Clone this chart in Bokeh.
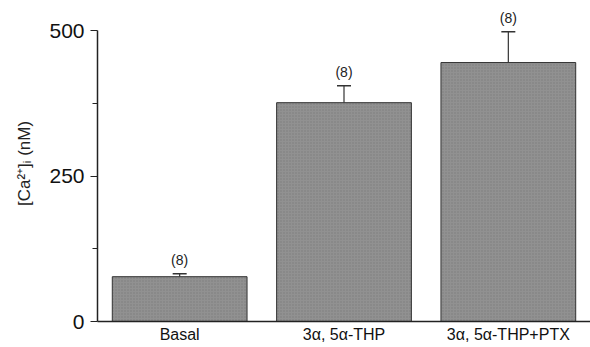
from bokeh.plotting import figure
from bokeh.models import ColumnDataSource, FixedTicker, Whisker, TeeHead, LabelSet
from bokeh.core.properties import value
from bokeh.embed import file_html
from bokeh.resources import INLINE

categories = ["Basal", "3α, 5α-THP", "3α, 5α-THP+PTX"]
means = [77, 376, 445]
sems = [5, 29, 53]
n_labels = ["(8)", "(8)", "(8)"]
y_ticks = [0, 250, 500]
y_minor = [125, 375]

src = ColumnDataSource(dict(
    cat=categories,
    mean=means,
    upper=[m + s for m, s in zip(means, sems)],
    lbl=n_labels,
))

p = figure(width=590, height=347, x_range=categories, y_range=(0, 543),
           output_backend="svg", toolbar_location=None,
           min_border_left=97, min_border_right=0, min_border_top=5, min_border_bottom=26)
p.x_range.range_padding = 0
p.outline_line_color = None
p.grid.visible = False
p.background_fill_color = "white"
p.border_fill_color = "white"

p.vbar(x="cat", top="mean", width=0.82, source=src,
       fill_color="#919191", line_color="#333333", line_width=1,
       hatch_pattern="dot", hatch_color="#5a5a5a", hatch_scale=3, hatch_alpha=0.4)

w = Whisker(base="cat", lower="mean", upper="upper", source=src,
            line_color="#333333", line_width=1.2,
            upper_head=TeeHead(size=14, line_color="#333333", line_width=1.5),
            lower_head=None)
p.add_layout(w)

p.text(x="cat", y="upper", text="lbl", source=src, y_offset=-6,
       text_align="center", text_baseline="bottom",
       text_font=value("Liberation Sans"), text_font_size="14px", text_color="#222222")

ya = p.yaxis[0]
ya.bounds = (0, 500)
ya.ticker = FixedTicker(ticks=y_ticks, minor_ticks=y_minor)
ya.axis_label = "[Ca²⁺]ᵢ (nM)"
ya.axis_label_text_font = "Liberation Sans"
ya.axis_label_text_font_style = "normal"
ya.axis_label_text_font_size = "17px"
ya.axis_label_text_color = "#222222"
ya.axis_label_standoff = 12
ya.major_label_text_font = "Liberation Sans"
ya.major_label_text_font_size = "21px"
ya.major_label_text_color = "#111111"
ya.major_tick_out = 7
ya.major_tick_in = 0
ya.minor_tick_out = 5
ya.minor_tick_in = 0
ya.axis_line_width = 1.5
ya.axis_line_color = "#222222"
ya.major_tick_line_color = "#222222"
ya.minor_tick_line_color = "#222222"
ya.major_label_standoff = 6

xa = p.xaxis[0]
xa.major_tick_out = 0
xa.major_tick_in = 0
xa.minor_tick_out = 0
xa.axis_line_width = 1.5
xa.axis_line_color = "#222222"
xa.major_label_text_font = "Liberation Sans"
xa.major_label_text_font_size = "16px"
xa.major_label_text_color = "#111111"
xa.major_label_standoff = 4

open("out.html", "w").write(file_html(p, INLINE))
